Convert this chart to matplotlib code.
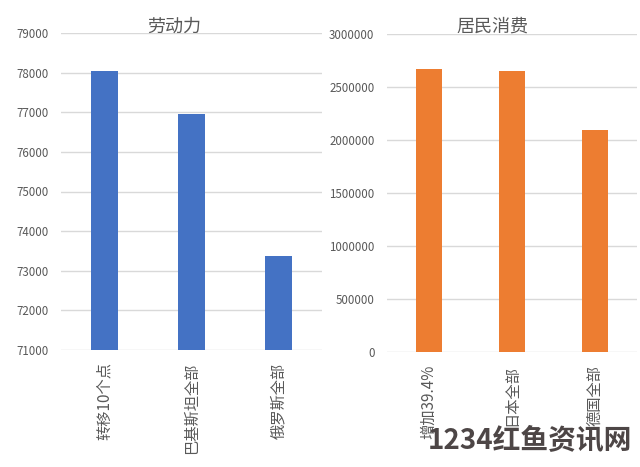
import matplotlib
matplotlib.use("Agg")
import matplotlib.pyplot as plt

plt.rcParams['font.family'] = ['Noto Sans CJK SC', 'DejaVu Sans']

labor_categories = ["转移10个点", "巴基斯坦全部", "俄罗斯全部"]
labor_values = [78030, 76950, 73360]
labor_ticks = [71000, 72000, 73000, 74000, 75000, 76000, 77000, 78000, 79000]

cons_categories = ["增加39.4%", "日本全部", "德国全部"]
cons_values = [2675000, 2657000, 2097000]
cons_ticks = [0, 500000, 1000000, 1500000, 2000000, 2500000, 3000000]

W, H = 640, 467
fig = plt.figure(figsize=(W / 100, H / 100), dpi=100)
fig.patch.set_facecolor("white")

def px_axes(x0, y0, x1, y1):
    return fig.add_axes([x0 / W, 1 - y1 / H, (x1 - x0) / W, (y1 - y0) / H])

tick_color = "#595959"
grid_color = "#D9D9D9"

def style(ax, cats, vals, ticks, color):
    x = range(len(cats))
    ax.bar(x, vals, width=0.31, color=color, zorder=3)
    ax.set_xlim(-0.5, len(cats) - 0.5)
    ax.set_ylim(ticks[0], ticks[-1])
    ax.set_yticks(ticks)
    ax.set_yticklabels([str(t) for t in ticks], fontsize=8.3, color=tick_color)
    ax.set_xticks(list(x))
    ax.set_xticklabels(cats, rotation=90, fontsize=11, color=tick_color, va="top", ha="center")
    ax.tick_params(axis="both", length=0)
    ax.tick_params(axis="y", pad=9)
    ax.tick_params(axis="x", pad=9)
    for s in ax.spines.values():
        s.set_visible(False)
    ax.grid(axis="y", color=grid_color, linewidth=1.0, zorder=0)
    ax.set_axisbelow(True)

ax1 = px_axes(61, 33, 322, 350)
style(ax1, labor_categories, labor_values, labor_ticks, "#4472C4")
ax2 = px_axes(387, 34.3, 637, 352.3)
style(ax2, cons_categories, cons_values, cons_ticks, "#ED7D31")

fig.text(174 / W, 1 - 27 / H, "劳动力", fontsize=13, color=tick_color, ha="center", va="center")
fig.text(492 / W, 1 - 27 / H, "居民消费", fontsize=13, color=tick_color, ha="center", va="center")

fig.text(530 / W, 1 - 441 / H, "1234红鱼资讯网", fontsize=20, fontweight="heavy",
         color="#4d4646", ha="center", va="center", zorder=10)

fig.savefig("out.png", dpi=100)
